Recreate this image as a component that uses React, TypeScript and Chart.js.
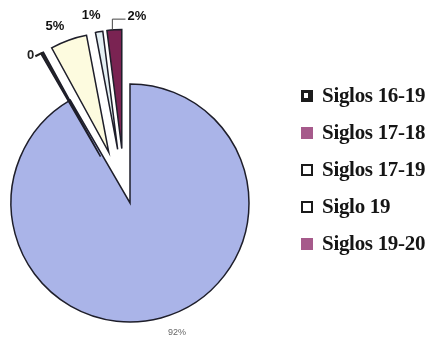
import React, { useEffect, useRef } from 'react';
import { Chart, registerables } from 'chart.js';

Chart.register(...registerables);

// ---- data ----
const categories = ['Siglos 16-19', 'Siglos 17-18', 'Siglos 17-19', 'Siglo 19', 'Siglos 19-20'];
const shares = [92, 0.4, 5, 1, 2];
const valueLabels = ['92%', '0', '5%', '1%', '2%'];

// ---- styles ----
const sliceColors = ['#aab4e8', '#262626', '#fdfbdf', '#e4f0f4', '#7a2352'];
const legendSwatches = ['#1c1c1c', '#a65a8b', '#ffffff', '#ffffff', '#a65a8b'];
const explodePx = [0, 55, 55, 55, 55];
const explodeTurnDeg = [0, -3, -3, -4, -5];
// label placement: angular nudge (deg, clockwise) and gap beyond the slice rim
const labelPlace = [
  { nudge: -4.9, gap: 19, font: '9px "Liberation Sans"', color: '#666' },
  { nudge: -4.5, gap: 4, font: 'bold 13px "Liberation Sans"', color: '#222' },
  { nudge: -3.3, gap: 18, font: 'bold 13px "Liberation Sans"', color: '#111' },
  { nudge: -2.7, gap: 18, font: 'bold 13px "Liberation Sans"', color: '#111' },
  { nudge: 5.7, gap: 13, font: 'bold 13px "Liberation Sans"', color: '#111' },
];

function shiftOf(arc: any, i: number) {
  const d = explodePx[i] || 0;
  const dir = (arc.startAngle + arc.endAngle) / 2 + ((explodeTurnDeg[i] || 0) * Math.PI) / 180;
  return { dx: Math.cos(dir) * d, dy: Math.sin(dir) * d };
}

const explodePlugin = {
  id: 'explodeSlices',
  beforeDatasetDraw(chart: any, args: any) {
    const ctx = chart.ctx;
    args.meta.data.forEach((arc: any, i: number) => {
      const { dx, dy } = shiftOf(arc, i);
      ctx.save();
      ctx.translate(dx, dy);
      arc.draw(ctx, chart.chartArea);
      ctx.restore();
    });
    return false;
  },
};

const labelPlugin = {
  id: 'sliceLabels',
  afterDatasetsDraw(chart: any) {
    const ctx = chart.ctx;
    const meta = chart.getDatasetMeta(0);
    meta.data.forEach((arc: any, i: number) => {
      const p = labelPlace[i];
      const mid = (arc.startAngle + arc.endAngle) / 2;
      const rim = arc.outerRadius + (explodePx[i] || 0);
      const a = mid + (p.nudge * Math.PI) / 180;
      const dist = rim + p.gap;
      const lx = arc.x + Math.cos(a) * dist;
      const ly = arc.y + Math.sin(a) * dist;
      ctx.save();
      ctx.font = p.font;
      ctx.fillStyle = p.color;
      ctx.textAlign = 'center';
      ctx.textBaseline = 'middle';
      ctx.fillText(valueLabels[i], lx, ly);
      const w = ctx.measureText(valueLabels[i]).width;
      const { dx, dy } = shiftOf(arc, i);
      const rx = arc.x + dx + Math.cos(mid) * arc.outerRadius;
      const ry = arc.y + dy + Math.sin(mid) * arc.outerRadius;
      ctx.strokeStyle = '#444';
      ctx.lineWidth = 1;
      if (i === 4) {
        ctx.beginPath();
        ctx.moveTo(rx - 2, ry);
        ctx.lineTo(rx - 2, ly + 3);
        ctx.lineTo(lx - w / 2 - 2, ly + 3);
        ctx.stroke();
      } else if (i === 1) {
        ctx.strokeStyle = '#222';
        ctx.lineWidth = 2;
        ctx.beginPath();
        ctx.moveTo(lx + w / 2 + 1, ly + 1);
        ctx.lineTo(rx, ry);
        ctx.stroke();
      }
      ctx.restore();
    });
  },
};

export default function App() {
  const ref = useRef<HTMLCanvasElement>(null);
  useEffect(() => {
    const chart = new Chart(ref.current as HTMLCanvasElement, {
      type: 'pie',
      data: {
        labels: categories,
        datasets: [
          {
            data: shares,
            backgroundColor: sliceColors,
            borderColor: '#1e1e2a',
            borderWidth: 1.5,
            borderJoinStyle: 'miter',
            radius: 119,
          } as any,
        ],
      },
      options: {
        responsive: false,
        animation: false,
        events: [],
        layout: { padding: { left: 0, right: 177, top: 59, bottom: 0 } },
        plugins: { legend: { display: false }, tooltip: { enabled: false } },
      },
      plugins: [explodePlugin as any, labelPlugin as any],
    });
    return () => chart.destroy();
  }, []);

  return (
    <div style={{ position: 'fixed', left: 0, top: 0, width: 437, height: 347, background: '#fff', overflow: 'hidden' }}>
      <canvas ref={ref} width={437} height={347} style={{ display: 'block' }} />
      <div style={{ position: 'absolute', left: 301, top: 77 }}>
        {categories.map((c, i) => (
          <div key={c} style={{ display: 'flex', alignItems: 'center', height: 37 }}>
            <div
              style={{
                width: 12,
                height: 12,
                boxSizing: 'border-box',
                background: legendSwatches[i],
                border: legendSwatches[i] === '#ffffff' ? '2px solid #1a1a1a' : 'none',
                marginRight: 9,
                position: 'relative',
              }}
            >
              {i === 0 && (
                <div style={{ position: 'absolute', left: 3, top: 3, width: 4, height: 5, background: '#fff' }} />
              )}
            </div>
            <span
              style={{
                fontFamily: '"Liberation Serif", serif',
                fontWeight: 'bold',
                fontSize: 21,
                color: '#151515',
                letterSpacing: -0.3,
                whiteSpace: 'nowrap',
              }}
            >
              {c}
            </span>
          </div>
        ))}
      </div>
    </div>
  );
}
